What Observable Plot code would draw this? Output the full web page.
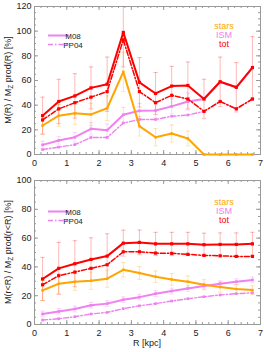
<!DOCTYPE html>
<html><head><meta charset="utf-8">
<script src="https://cdn.jsdelivr.net/npm/d3@7"></script>
<script src="https://cdn.jsdelivr.net/npm/@observablehq/plot@0.6"></script>
<style>body{margin:0;background:#fff}#c>svg{display:block}</style>
</head><body><div id="c"></div><script>
// radii (kpc)
const R = [0.25, 0.75, 1.25, 1.75, 2.25, 2.75, 3.25, 3.75, 4.25, 4.75, 5.25, 5.75, 6.25, 6.75];
// top panel: M(R)/M_Z prod(R) [%]
const totM08 = [31.5, 43, 47.5, 54, 57, 99, 58.5, 49.5, 55.5, 56, 45, 59, 54.5, 70.5];
const totPP04 = [28, 37, 42, 46.5, 51, 93, 51, 42, 48, 45, 35, 43, 37, 45];
const stars = [23.5, 31.5, 33.5, 32.5, 37.5, 67, 23, 14, 17, 13, 0, 0, 0, 0];
const ismM08 = [7.8, 11.4, 14, 20.8, 19.7, 32.2, 35.4, 35.7, 39, 43, 45, 59, 54.5, 70.5];
const ismPP04 = [4, 6, 8, 13.8, 13.8, 25.5, 28.4, 28.4, 31, 32, 35, 43, 37, 45];
const errTot = [15, 18, 18, 17, 22, 28, 20, 17, 16, 19, 16, 20, 20, 25];
const errStars = [7, 9, 9, 9, 10, 16, 8, 7, 7, 6, 0, 0, 0, 0];
const errIsm = [3, 3, 4, 5, 5, 6, 6, 6, 6, 7, 0, 0, 0, 0];
// bottom panel: M(r<R)/M_Z prod(r<R) [%]
const totM08c = [31.6, 39, 42.2, 45.2, 47.5, 56.5, 57, 56, 56, 56, 55.4, 55.6, 55.6, 56];
const totPP04c = [27.6, 33.9, 36.4, 39, 41.5, 50.5, 50.5, 49.6, 49.4, 48.7, 48, 47.7, 47.3, 47.3];
const starsC = [23.7, 28.3, 29.7, 30.4, 31.8, 38, 35.7, 33.2, 31.3, 29.7, 27.6, 26, 24.6, 23.9];
const ismM08c = [7.3, 9.1, 10.8, 13.3, 14.5, 17.2, 19, 21.4, 23.2, 25, 26.7, 28.3, 29.7, 30.9];
const ismPP04c = [3.1, 4, 5.4, 7.3, 8.4, 11, 13, 14.5, 16.3, 17.9, 19.3, 20.5, 21.4, 22];
const errTotC = [15, 18, 16, 15, 15.5, 9, 8.6, 8, 8, 8, 8, 8, 8, 8];
const errStarsC = [7, 7, 6, 6, 6, 5, 4.5, 4, 4, 4, 3.5, 3.5, 3, 3];
const errIsmC = [2, 2, 2, 2, 2, 2, 2, 2, 2, 2, 2, 2, 2, 2];
// ticks
const xTicks = [0, 1, 2, 3, 4, 5, 6, 7];
const yTicksTop = [0, 20, 40, 60, 80, 100, 120];
const yTicksBot = [0, 20, 40, 60, 80, 100];
const seriesNames = ["stars", "ISM", "tot"];
const methodNames = ["M08", "PP04"];

const RED = "#ff0000", ORANGE = "#ffa500", PINK = "#ee82ee", FRAME = "#9a9a9a";
const DASH = "5,2,1.5,2";
const cap = {draw(ctx, size) { const r = Math.sqrt(size / Math.PI); ctx.moveTo(-r, 0); ctx.lineTo(r, 0); }};

function panel(o) {
  const W = 264, ml = 34, mr = 4;
  const iw = W - ml - mr, ih = o.height - o.mt - o.mb;
  const rows = R.map((r, i) => ({r, tot: o.tot[i], totPP: o.totPP[i], stars: o.stars[i], ism: o.ism[i], ismPP: o.ismPP[i],
    eTot: o.eTot[i], eStars: o.eStars[i], eIsm: o.eIsm[i]}));
  const xMinor = d3.range(0, 7.0001, 0.2);
  const yMinor = d3.range(0, o.yMax + 0.001, 5);
  const errMarks = (key, ek, color, op) => [
    Plot.ruleX(rows.filter(d => d[ek] > 0), {x: "r", y1: d => d[key] - d[ek], y2: d => d[key] + d[ek], stroke: color, strokeOpacity: op, strokeWidth: 1, clip: true}),
    Plot.dot(rows.filter(d => d[ek] > 0), {x: "r", y: d => d[key] + d[ek], symbol: cap, r: 2.2, stroke: color, strokeOpacity: op, strokeWidth: 1, clip: true}),
    Plot.dot(rows.filter(d => d[ek] > 0), {x: "r", y: d => d[key] - d[ek], symbol: cap, r: 2.2, stroke: color, strokeOpacity: op, strokeWidth: 1, clip: true})
  ];
  const sq = (key, color, r) => Plot.dot(rows, {x: "r", y: key, symbol: "square", r, fill: color, stroke: null});
  const p = Plot.plot({
    width: W, height: o.height, marginLeft: ml, marginRight: mr, marginTop: o.mt, marginBottom: o.mb,
    x: {domain: [0, 7]}, y: {domain: [0, o.yMax]},
    style: {fontFamily: "'Liberation Sans', Arial, sans-serif", fontSize: "9px", color: "#222", background: "white"},
    marks: [
      Plot.tickX(xTicks, {x: d => d, insetTop: ih - 4, stroke: FRAME}),
      Plot.tickX(xTicks, {x: d => d, insetBottom: ih - 4, stroke: FRAME}),
      Plot.tickX(xMinor, {x: d => d, insetTop: ih - 2, stroke: FRAME}),
      Plot.tickX(xMinor, {x: d => d, insetBottom: ih - 2, stroke: FRAME}),
      Plot.tickY(o.yTicks, {y: d => d, insetRight: iw - 4, stroke: FRAME}),
      Plot.tickY(o.yTicks, {y: d => d, insetLeft: iw - 4, stroke: FRAME}),
      Plot.tickY(yMinor, {y: d => d, insetRight: iw - 2, stroke: FRAME}),
      Plot.tickY(yMinor, {y: d => d, insetLeft: iw - 2, stroke: FRAME}),
      Plot.frame({stroke: FRAME}),
      Plot.axisX(xTicks, {anchor: "bottom", tickSize: 0, tickPadding: 5, label: null, fontSize: 9}),
      Plot.axisY(o.yTicks, {anchor: "left", tickSize: 0, tickPadding: 3, label: null, fontSize: 9}),
      ...errMarks("ism", "eIsm", PINK, 0.3),
      ...errMarks("stars", "eStars", ORANGE, 0.3),
      ...errMarks("tot", "eTot", RED, 0.28),
      Plot.line(rows, {x: "r", y: "ismPP", stroke: PINK, strokeWidth: 1.4, strokeDasharray: DASH}),
      Plot.line(rows, {x: "r", y: "ism", stroke: PINK, strokeWidth: 2}),
      sq("ismPP", PINK, 1.5), sq("ism", PINK, 1.5),
      Plot.line(rows, {x: "r", y: "stars", stroke: ORANGE, strokeWidth: 2}),
      sq("stars", ORANGE, 1.4),
      Plot.line(rows, {x: "r", y: "totPP", stroke: RED, strokeWidth: 1.5, strokeDasharray: DASH}),
      Plot.line(rows, {x: "r", y: "tot", stroke: RED, strokeWidth: 2}),
      sq("totPP", RED, 1.8), sq("tot", RED, 1.8)
    ]
  });
  const svg = d3.select(p);
  // y label with subscript
  const t = svg.append("text").attr("transform", `translate(11,${o.mt + ih / 2}) rotate(-90)`)
    .attr("text-anchor", "middle").attr("font-size", 9).attr("fill", "#222");
  t.append("tspan").text(o.ylab[0]);
  t.append("tspan").attr("font-size", 6.5).attr("dy", 2).text("Z");
  t.append("tspan").attr("dy", -2).text(o.ylab[1]);
  if (o.xlab) {
    svg.append("text").attr("x", ml + iw / 2).attr("y", o.mt + ih + 22).attr("text-anchor", "middle")
      .attr("font-size", 9).attr("fill", "#222").text(o.xlab);
  }
  // left legend (methods)
  const lg = svg.append("g");
  methodNames.forEach((m, i) => {
    const y = 35.5 + i * 9;
    lg.append("line").attr("x1", 48).attr("x2", 69).attr("y1", y).attr("y2", y)
      .attr("stroke", PINK).attr("stroke-width", i ? 1.4 : 2).attr("stroke-dasharray", i ? DASH : null);
    lg.append("text").attr("x", 73).attr("y", y + 3).attr("font-size", 8).attr("fill", "#222").text(m);
  });
  // right legend (components)
  const cols = [ORANGE, PINK, RED];
  seriesNames.forEach((s, i) => {
    svg.append("text").attr("x", 224).attr("y", 28.5 + i * 9.3).attr("font-size", 9).attr("fill", cols[i]).text(s);
  });
  return p;
}

const c = document.getElementById("c");
c.appendChild(panel({height: 176, mt: 6, mb: 22, yMax: 120, yTicks: yTicksTop,
  tot: totM08, totPP: totPP04, stars, ism: ismM08, ismPP: ismPP04, eTot: errTot, eStars: errStars, eIsm: errIsm,
  ylab: ["M(R) / M", " prod(R) [%]"]}));
c.appendChild(panel({height: 176, mt: 4, mb: 28, yMax: 100, yTicks: yTicksBot,
  tot: totM08c, totPP: totPP04c, stars: starsC, ism: ismM08c, ismPP: ismPP04c, eTot: errTotC, eStars: errStarsC, eIsm: errIsmC,
  ylab: ["M(r<R) / M", " prod(r<R) [%]"], xlab: "R [kpc]"}));
</script></body></html>
